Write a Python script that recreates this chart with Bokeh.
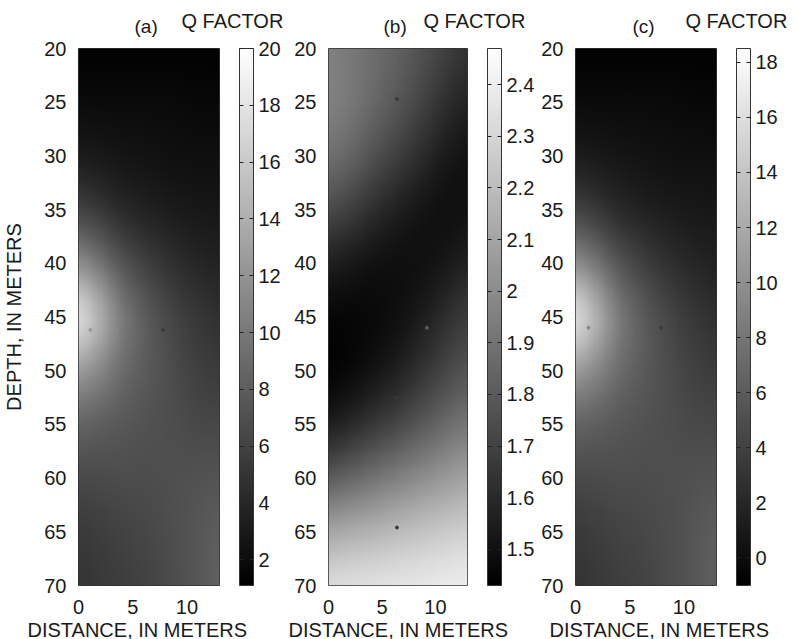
import numpy as np
from bokeh.plotting import figure
from bokeh.layouts import row
from bokeh.models import (LinearColorMapper, ColorBar, FixedTicker, Range1d, Title,
                          CustomJSTickFormatter)
from bokeh.embed import file_html
from bokeh.resources import INLINE

# Grid nodes (distance across the section, depth down the hole), metres
distance_nodes = [0, 2, 4, 6.5, 9, 11, 13]
depth_nodes = [20, 25, 30, 35, 40, 45, 50, 55, 60, 65, 70]

# (a) Q factor at the grid nodes, one row per depth
q_a = [
    [1.2, 1.2, 1.2, 1.2, 1.2, 1.2, 1.2],
    [1.9, 1.9, 1.9, 1.9, 1.9, 1.7, 1.7],
    [3.0, 2.8, 2.6, 2.4, 2.2, 2.2, 2.2],
    [5.8, 4.9, 3.9, 3.4, 3.0, 2.8, 2.8],
    [11.5, 9.6, 7.3, 5.6, 4.5, 3.9, 3.6],
    [19.4, 15.3, 10.6, 7.9, 6.2, 5.3, 4.7],
    [12.4, 10.9, 9.0, 7.7, 6.6, 5.8, 5.4],
    [8.3, 7.9, 7.5, 7.1, 6.8, 6.4, 6.4],
    [6.4, 6.6, 6.8, 6.8, 7.0, 7.2, 7.3],
    [5.3, 5.6, 6.0, 6.4, 7.0, 7.5, 8.1],
    [4.9, 5.3, 5.6, 6.0, 6.8, 7.5, 8.3],
]

# (b) Q factor at the grid nodes
q_b = [
    [1.95, 1.92, 1.88, 1.83, 1.76, 1.70, 1.64],
    [1.97, 1.93, 1.87, 1.79, 1.70, 1.62, 1.57],
    [1.90, 1.85, 1.77, 1.69, 1.60, 1.53, 1.50],
    [1.74, 1.69, 1.62, 1.55, 1.50, 1.48, 1.49],
    [1.55, 1.52, 1.49, 1.48, 1.49, 1.52, 1.57],
    [1.45, 1.45, 1.46, 1.49, 1.55, 1.62, 1.68],
    [1.43, 1.45, 1.49, 1.55, 1.64, 1.71, 1.77],
    [1.53, 1.58, 1.64, 1.71, 1.79, 1.86, 1.91],
    [1.79, 1.84, 1.89, 1.95, 2.01, 2.05, 2.10],
    [2.11, 2.14, 2.16, 2.20, 2.23, 2.26, 2.28],
    [2.35, 2.36, 2.37, 2.38, 2.39, 2.40, 2.41],
]

# (c) Q factor at the grid nodes
q_c = [
    [-0.9, -0.9, -0.9, -0.9, -0.9, -0.9, -0.9],
    [-0.2, -0.2, -0.2, -0.2, -0.2, -0.4, -0.4],
    [1.0, 0.8, 0.6, 0.4, 0.2, 0.2, 0.2],
    [3.9, 2.9, 1.9, 1.3, 1.0, 0.8, 0.8],
    [9.7, 7.8, 5.4, 3.7, 2.5, 1.9, 1.5],
    [17.9, 13.6, 8.8, 6.0, 4.3, 3.3, 2.7],
    [10.7, 9.1, 7.2, 5.8, 4.7, 3.9, 3.5],
    [6.4, 6.0, 5.6, 5.2, 4.9, 4.5, 4.5],
    [4.5, 4.7, 4.9, 4.9, 5.0, 5.2, 5.4],
    [3.3, 3.7, 4.1, 4.5, 5.0, 5.6, 6.2],
    [2.9, 3.3, 3.7, 4.1, 4.9, 5.6, 6.4],
]

# Colour-scale limits of each panel
range_a = (1.1, 20.0)
range_b = (1.43, 2.47)
range_c = (-1.0, 18.5)

# Sensor positions marked on each section
sensors_a_dist = [1.1, 3.5, 7.8]
sensors_a_depth = [46.2, 46.2, 46.2]
sensors_a_color = ["#9a9a9a", "#8a8a8a", "#3a3a3a"]
sensors_b_dist = [6.4, 9.2, 6.4, 6.4]
sensors_b_depth = [24.7, 46.0, 52.5, 64.6]
sensors_b_color = ["#3a3a3a", "#5a5a5a", "#3a3a3a", "#3a3a3a"]
sensors_c_dist = [1.2, 7.9]
sensors_c_depth = [46.0, 46.0]
sensors_c_color = ["#8a8a8a", "#3a3a3a"]

# Tick labels
depth_ticks = [20, 25, 30, 35, 40, 45, 50, 55, 60, 65, 70]
distance_ticks = [0, 5, 10]
cbar_ticks_a = [2, 4, 6, 8, 10, 12, 14, 16, 18, 20]
cbar_ticks_b = [1.5, 1.6, 1.7, 1.8, 1.9, 2.0, 2.1, 2.2, 2.3, 2.4]
cbar_ticks_c = [0, 2, 4, 6, 8, 10, 12, 14, 16, 18]

GRAY = ["#%02x%02x%02x" % (i, i, i) for i in range(256)]
FONT = "Liberation Sans"
TEXT = "#1a1a1a"
FRAME_H = 537
TOP = 48
BOTTOM = 54
DX = 13.0
D0, D1 = 20.0, 70.0


def _smooth(a, sigma, axis):
    """Separable gaussian smoothing of the display raster (edge padded)."""
    r = int(3 * sigma)
    k = np.exp(-0.5 * (np.arange(-r, r + 1) / sigma) ** 2)
    k /= k.sum()
    pad = [(0, 0), (0, 0)]
    pad[axis] = (r, r)
    ap = np.pad(a, pad, mode="edge")
    return np.apply_along_axis(lambda v: np.convolve(v, k, mode="valid"), axis, ap)


def resample(grid, nx=131, ny=501):
    """Interpolate the node values onto a fine display raster."""
    g = np.asarray(grid, dtype=float)
    xs = np.linspace(0, DX, nx)
    ys = np.linspace(D0, D1, ny)
    rows = np.array([np.interp(xs, distance_nodes, r) for r in g])
    field = np.array([np.interp(ys, depth_nodes, rows[:, j]) for j in range(nx)]).T
    field = _smooth(field, 18, 0)
    field = _smooth(field, 6, 1)
    return field


def panel(q, lims, cticks, letter, fw, bl, br, sx, sy, sc,
          letter_off, qf_off, xt_off, ylabel=False, fmt=None):
    p = figure(frame_width=fw, frame_height=FRAME_H,
               min_border_left=bl, min_border_right=br,
               min_border_top=TOP, min_border_bottom=BOTTOM,
               x_range=Range1d(0, DX), y_range=Range1d(D1, D0),
               output_backend="svg", toolbar_location=None, tools="")
    p.grid.visible = False
    p.outline_line_color = "#333333"
    p.outline_line_width = 1
    p.background_fill_color = "white"
    p.border_fill_color = "white"

    mapper = LinearColorMapper(palette=GRAY, low=lims[0], high=lims[1])
    p.image(image=[resample(q)], x=0, y=D0, dw=DX, dh=D1 - D0,
            color_mapper=mapper)
    p.scatter(sx, sy, size=3, color=sc)

    for ax in (p.xaxis[0], p.yaxis[0]):
        ax.axis_line_color = None
        ax.major_tick_line_color = None
        ax.minor_tick_line_color = None
        ax.major_label_text_font = FONT
        ax.major_label_text_font_size = "20px"
        ax.major_label_text_color = TEXT
    p.xaxis.ticker = FixedTicker(ticks=distance_ticks)
    p.yaxis.ticker = FixedTicker(ticks=depth_ticks)
    p.xaxis.major_label_standoff = 8
    p.yaxis.major_label_standoff = 6
    if ylabel:
        p.yaxis.axis_label = "DEPTH, IN METERS"
        p.yaxis.axis_label_text_font = FONT
        p.yaxis.axis_label_text_font_size = "20px"
        p.yaxis.axis_label_text_font_style = "normal"
        p.yaxis.axis_label_text_color = TEXT
        p.yaxis.axis_label_standoff = 16

    cb = ColorBar(color_mapper=mapper, ticker=FixedTicker(ticks=cticks),
                  width=14, height=FRAME_H, location=(fw + 20, 0),
                  padding=0, margin=0,
                  bar_line_color="#333333", bar_line_width=1,
                  major_tick_in=14, major_tick_out=0,
                  major_tick_line_color="#222222", major_tick_line_dash="4 6",
                  minor_tick_line_color=None,
                  major_label_text_font=FONT, major_label_text_font_size="20px",
                  major_label_text_color=TEXT, label_standoff=5,
                  background_fill_alpha=0, border_line_color=None)
    if fmt is not None:
        cb.formatter = fmt
    p.add_layout(cb, "center")

    # panel letter sits next to the frame, the heading is pulled down beside it
    p.add_layout(Title(text=letter, text_font=FONT, text_font_size="19px",
                       text_font_style="normal", text_color=TEXT,
                       align="left", offset=letter_off, standoff=23), "above")

    p.title.text = "Q FACTOR"
    p.title.text_font = FONT
    p.title.text_font_size = "20px"
    p.title.text_font_style = "normal"
    p.title.text_color = TEXT
    p.title.align = "left"
    p.title.offset = qf_off
    p.title.standoff = -58

    p.add_layout(Title(text="DISTANCE, IN METERS", text_font=FONT,
                       text_font_size="20px", text_font_style="normal",
                       text_color=TEXT, align="left", offset=xt_off,
                       standoff=0), "below")
    return p


one_decimal = CustomJSTickFormatter(code="return String(Math.round(tick * 10) / 10);")

pa = panel(q_a, range_a, cbar_ticks_a, "(a)", 141, 78, 67,
           sensors_a_dist, sensors_a_depth, sensors_a_color, 56, 103, -51, ylabel=True)
pb = panel(q_b, range_b, cbar_ticks_b, "(b)", 139, 42, 71,
           sensors_b_dist, sensors_b_depth, sensors_b_color, 55, 95, -40, fmt=one_decimal)
pc = panel(q_c, range_c, cbar_ticks_c, "(c)", 141, 37, 82,
           sensors_c_dist, sensors_c_depth, sensors_c_color, 57, 110, -26)

layout = row(pa, pb, pc, spacing=0)
open("out.html", "w").write(file_html(layout, INLINE))
